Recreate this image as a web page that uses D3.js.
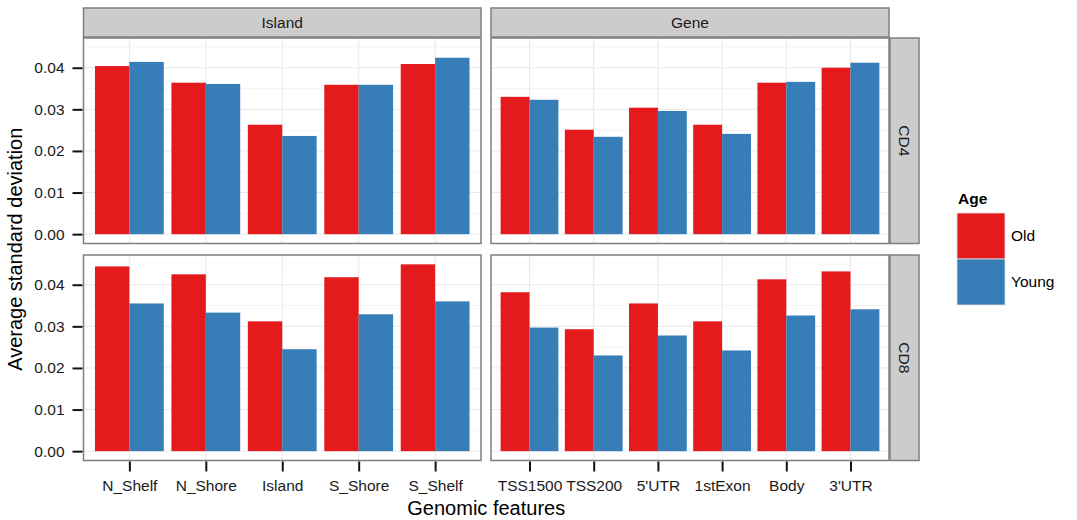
<!DOCTYPE html>
<html>
<head>
<meta charset="utf-8">
<script src="https://cdn.jsdelivr.net/npm/d3@7"></script>
<style>
  body { margin: 0; background: #fff; }
  svg { font-family: "Liberation Sans", Arial, sans-serif; }
</style>
</head>
<body>
<div id="chart"></div>
<script>
// facet columns / rows
const regions = ['Island', 'Gene'];
const cellTypes = ['CD4', 'CD8'];
const ages = ['Old', 'Young'];

const islandCats = ['N_Shelf', 'N_Shore', 'Island', 'S_Shore', 'S_Shelf'];
const geneCats = ['TSS1500', 'TSS200', "5'UTR", '1stExon', 'Body', "3'UTR"];

// values
const cd4IslandOld = [0.0404, 0.0364, 0.0263, 0.0359, 0.0409];
const cd4IslandYoung = [0.0414, 0.0361, 0.0236, 0.0359, 0.0424];
const cd4GeneOld = [0.0330, 0.0251, 0.0304, 0.0263, 0.0364, 0.0400];
const cd4GeneYoung = [0.0323, 0.0234, 0.0296, 0.0241, 0.0366, 0.0412];
const cd8IslandOld = [0.0444, 0.0425, 0.0312, 0.0418, 0.0449];
const cd8IslandYoung = [0.0355, 0.0333, 0.0245, 0.0329, 0.0360];
const cd8GeneOld = [0.0382, 0.0293, 0.0355, 0.0312, 0.0413, 0.0432];
const cd8GeneYoung = [0.0297, 0.0230, 0.0278, 0.0242, 0.0326, 0.0341];

const yTicks = [0, 0.01, 0.02, 0.03, 0.04];
const yMinor = [0.005, 0.015, 0.025, 0.035, 0.045];

const colors = {Old: '#E41A1C', Young: '#377EB8'};

const cats = {Island: islandCats, Gene: geneCats};
const values = {
  CD4: {Island: {Old: cd4IslandOld, Young: cd4IslandYoung}, Gene: {Old: cd4GeneOld, Young: cd4GeneYoung}},
  CD8: {Island: {Old: cd8IslandOld, Young: cd8IslandYoung}, Gene: {Old: cd8GeneOld, Young: cd8GeneYoung}}
};

const W = 1077, H = 520;
const colX = {Island: [83.5, 481], Gene: [491, 889]};
const rowY = {CD4: [38, 243.5], CD8: [255, 460.5]};
const stripTop = 8, rowStripW = 29;
const fs = '15.5px';

const svg = d3.select('#chart').append('svg')
  .attr('width', W).attr('height', H);

// shared y range, ggplot style 5% expansion
const allVals = [].concat(cd4IslandOld, cd4IslandYoung, cd4GeneOld, cd4GeneYoung,
  cd8IslandOld, cd8IslandYoung, cd8GeneOld, cd8GeneYoung);
const maxV = d3.max(allVals);
const yDomain = [-0.05 * maxV, 1.05 * maxV];

cellTypes.forEach(function(ct, ri) {
  const y = d3.scaleLinear().domain(yDomain).range([rowY[ct][1], rowY[ct][0]]);

  regions.forEach(function(rg, ci) {
    const x0 = colX[rg][0], x1 = colX[rg][1];
    const x = d3.scalePoint().domain(cats[rg]).range([x0, x1]).padding(0.6);
    const step = x.step();
    const g = svg.append('g');

    // grid
    g.selectAll('.minor').data(yMinor).enter().append('line')
      .attr('x1', x0).attr('x2', x1)
      .attr('y1', d => y(d)).attr('y2', d => y(d))
      .style('stroke', '#f4f4f4').style('stroke-width', 1);
    g.selectAll('.major').data(yTicks).enter().append('line')
      .attr('x1', x0).attr('x2', x1)
      .attr('y1', d => y(d)).attr('y2', d => y(d))
      .style('stroke', '#e8e8e8').style('stroke-width', 1);
    g.selectAll('.vmajor').data(cats[rg]).enter().append('line')
      .attr('x1', d => x(d)).attr('x2', d => x(d))
      .attr('y1', rowY[ct][0]).attr('y2', rowY[ct][1])
      .style('stroke', '#e8e8e8').style('stroke-width', 1);

    // bars
    ages.forEach(function(age, ai) {
      const vals = values[ct][rg][age];
      g.selectAll('.bar' + age).data(cats[rg]).enter().append('rect')
        .attr('x', d => x(d) - 0.45 * step + ai * 0.45 * step)
        .attr('width', 0.45 * step)
        .attr('y', (d, i) => y(vals[i]))
        .attr('height', (d, i) => y(0) - y(vals[i]))
        .attr('fill', colors[age]);
    });

    // panel border
    g.append('rect')
      .attr('x', x0).attr('y', rowY[ct][0])
      .attr('width', x1 - x0).attr('height', rowY[ct][1] - rowY[ct][0])
      .style('fill', 'none').style('stroke', '#7f7f7f').style('stroke-width', 1.5);

    // y axis on first column
    if (ci === 0) {
      const ya = svg.append('g')
        .attr('transform', `translate(${x0 - 1},0)`)
        .call(d3.axisLeft(y).tickValues(yTicks).tickFormat(d3.format('.2f')).tickSize(10).tickPadding(8));
      ya.select('.domain').remove();
      ya.selectAll('line').style('stroke', '#111').style('stroke-width', 2);
      ya.selectAll('text').style('font-size', fs).style('fill', '#1a1a1a')
        .style('font-family', '"Liberation Sans", Arial, sans-serif');
    }

    // x axis on bottom row
    if (ri === cellTypes.length - 1) {
      const xa = svg.append('g')
        .attr('transform', `translate(0,${rowY[ct][1] + 1})`)
        .call(d3.axisBottom(x).tickSize(10).tickPadding(8));
      xa.select('.domain').remove();
      xa.selectAll('line').style('stroke', '#111').style('stroke-width', 2);
      xa.selectAll('text').style('font-size', fs).style('fill', '#1a1a1a')
        .style('font-family', '"Liberation Sans", Arial, sans-serif');
    }

    // column strip on top row
    if (ri === 0) {
      svg.append('rect')
        .attr('x', x0).attr('y', stripTop)
        .attr('width', x1 - x0).attr('height', rowY[ct][0] - stripTop - 1)
        .style('fill', '#cccccc').style('stroke', '#7f7f7f').style('stroke-width', 1.5);
      svg.append('text')
        .attr('x', (x0 + x1) / 2).attr('y', (stripTop + rowY[ct][0]) / 2)
        .attr('dy', '0.35em')
        .style('text-anchor', 'middle').style('font-size', fs).style('fill', '#1a1a1a')
        .text(rg);
    }

    // row strip on last column
    if (ci === regions.length - 1) {
      svg.append('rect')
        .attr('x', x1 + 1).attr('y', rowY[ct][0])
        .attr('width', rowStripW).attr('height', rowY[ct][1] - rowY[ct][0])
        .style('fill', '#cccccc').style('stroke', '#7f7f7f').style('stroke-width', 1.5);
      const cx = x1 + 1 + rowStripW / 2, cy = (rowY[ct][0] + rowY[ct][1]) / 2;
      svg.append('text')
        .attr('transform', `translate(${cx},${cy}) rotate(90)`)
        .attr('dy', '0.35em')
        .style('text-anchor', 'middle').style('font-size', fs).style('fill', '#1a1a1a')
        .text(ct);
    }
  });
});

// axis titles
svg.append('text')
  .attr('x', (colX.Island[0] + colX.Gene[1]) / 2).attr('y', 515)
  .style('text-anchor', 'middle').style('font-size', '20px')
  .text('Genomic features');

svg.append('text')
  .attr('transform', `translate(22,${(rowY.CD4[0] + rowY.CD8[1]) / 2}) rotate(-90)`)
  .style('text-anchor', 'middle').style('font-size', '20px')
  .text('Average standard deviation');

// legend
const leg = svg.append('g').attr('transform', 'translate(957,213)');
leg.append('text')
  .attr('x', 1).attr('y', -9)
  .style('font-size', fs).style('font-weight', 'bold')
  .text('Age');
ages.forEach(function(age, i) {
  leg.append('rect')
    .attr('x', 0).attr('y', i * 46)
    .attr('width', 48).attr('height', 46)
    .attr('fill', colors[age])
    .style('stroke', '#e0e0e0').style('stroke-width', 0.8);
  leg.append('text')
    .attr('x', 54).attr('y', i * 46 + 23).attr('dy', '0.35em')
    .style('font-size', fs)
    .text(age);
});
</script>
</body>
</html>
